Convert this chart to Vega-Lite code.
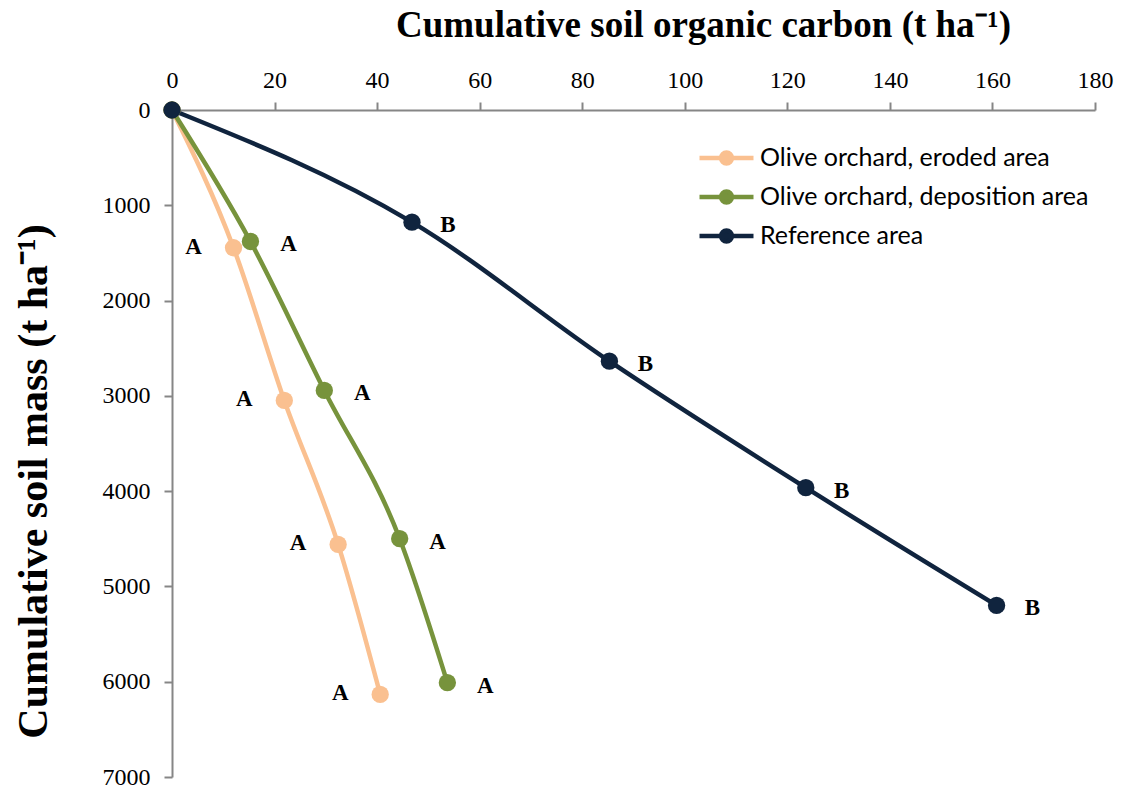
{
  "$schema": "https://vega.github.io/schema/vega-lite/v6.json",
  "width": 923,
  "height": 667,
  "autosize": "none",
  "padding": {"left": 172, "top": 110, "right": 27, "bottom": 18},
  "background": "white",
  "data": {
    "values": [
      {"series": "Olive orchard, eroded area", "carbon": 0, "mass": 0, "sig": ""},
      {"series": "Olive orchard, eroded area", "carbon": 12.0, "mass": 1446, "sig": "A"},
      {"series": "Olive orchard, eroded area", "carbon": 21.9, "mass": 3048, "sig": "A"},
      {"series": "Olive orchard, eroded area", "carbon": 32.4, "mass": 4559, "sig": "A"},
      {"series": "Olive orchard, eroded area", "carbon": 40.6, "mass": 6133, "sig": "A"},
      {"series": "Olive orchard, deposition area", "carbon": 0, "mass": 0, "sig": ""},
      {"series": "Olive orchard, deposition area", "carbon": 15.3, "mass": 1380, "sig": "A"},
      {"series": "Olive orchard, deposition area", "carbon": 29.7, "mass": 2943, "sig": "A"},
      {"series": "Olive orchard, deposition area", "carbon": 44.4, "mass": 4499, "sig": "A"},
      {"series": "Olive orchard, deposition area", "carbon": 53.7, "mass": 6010, "sig": "A"},
      {"series": "Reference area", "carbon": 0, "mass": 0, "sig": ""},
      {"series": "Reference area", "carbon": 46.8, "mass": 1177, "sig": "B"},
      {"series": "Reference area", "carbon": 85.3, "mass": 2636, "sig": "B"},
      {"series": "Reference area", "carbon": 123.6, "mass": 3964, "sig": "B"},
      {"series": "Reference area", "carbon": 160.8, "mass": 5199, "sig": "B"}
    ]
  },
  "encoding": {
    "x": {
      "field": "carbon",
      "type": "quantitative",
      "scale": {"domain": [0, 180], "nice": false, "zero": false},
      "axis": {
        "orient": "top",
        "values": [0, 20, 40, 60, 80, 100, 120, 140, 160, 180],
        "format": "d",
        "labelFont": "Liberation Serif",
        "labelFontSize": 24,
        "labelPadding": 10,
        "title": "Cumulative soil organic carbon (t ha⁻¹)",
        "titleFontSize": 37,
        "titleX": 531,
        "titleY": -85
      }
    },
    "y": {
      "field": "mass",
      "type": "quantitative",
      "scale": {"domain": [0, 7000], "nice": false, "reverse": true},
      "axis": {
        "orient": "left",
        "values": [0, 1000, 2000, 3000, 4000, 5000, 6000, 7000],
        "format": "d",
        "labelFont": "Liberation Serif",
        "labelFontSize": 24,
        "labelPadding": 14,
        "title": "Cumulative soil mass (t ha⁻¹)",
        "titleFontSize": 42,
        "titleAngle": -90,
        "titleX": -139,
        "titleY": 371
      }
    },
    "color": {
      "field": "series",
      "type": "nominal",
      "scale": {
        "domain": ["Olive orchard, eroded area", "Olive orchard, deposition area", "Reference area"],
        "range": ["#FAC090", "#77933C", "#10243E"]
      },
      "legend": {
        "title": null,
        "orient": "none",
        "legendX": 525,
        "legendY": 38,
        "padding": 0,
        "symbolType": "M-1,0L1,0M-0.2,0A0.2,0.2,0,1,1,0.2,0A0.2,0.2,0,1,1,-0.2,0Z",
        "symbolSize": 2916,
        "symbolStrokeWidth": 4.5,
        "symbolOffset": 0,
        "labelOffset": 4,
        "labelFont": "Lato",
        "labelFontSize": 25,
        "labelColor": "#000000",
        "clipHeight": 20,
        "rowPadding": 14,
        "labelLimit": 500,
        "encode": {
          "symbols": {
            "update": {
              "fill": {"scale": "color", "field": "value"},
              "stroke": {"scale": "color", "field": "value"},
              "opacity": {"value": 1},
              "fillOpacity": {"value": 1},
              "strokeOpacity": {"value": 1}
            }
          }
        }
      }
    }
  },
  "layer": [
    {
      "mark": {"type": "line", "strokeWidth": 4.5, "interpolate": "monotone"},
      "encoding": {"order": {"field": "mass", "type": "quantitative"}}
    },
    {
      "mark": {"type": "point", "filled": true, "size": 300, "opacity": 1}
    },
    {
      "transform": [{"filter": "datum.series === 'Olive orchard, eroded area' && datum.sig !== ''"}],
      "mark": {"type": "text", "dx": -40, "dy": -1, "font": "Liberation Serif", "fontWeight": "bold", "fontSize": 23, "baseline": "middle", "align": "center"},
      "encoding": {"text": {"field": "sig"}, "color": {"value": "#000000"}}
    },
    {
      "transform": [{"filter": "datum.series === 'Olive orchard, deposition area' && datum.sig !== ''"}],
      "mark": {"type": "text", "dx": 38, "dy": 3, "font": "Liberation Serif", "fontWeight": "bold", "fontSize": 23, "baseline": "middle", "align": "center"},
      "encoding": {"text": {"field": "sig"}, "color": {"value": "#000000"}}
    },
    {
      "transform": [{"filter": "datum.series === 'Reference area' && datum.sig !== ''"}],
      "mark": {"type": "text", "dx": 36, "dy": 3, "font": "Liberation Serif", "fontWeight": "bold", "fontSize": 23, "baseline": "middle", "align": "center"},
      "encoding": {"text": {"field": "sig"}, "color": {"value": "#000000"}}
    }
  ],
  "config": {
    "view": {"stroke": null},
    "style": {
      "guide-label": {"font": "Liberation Serif", "fontSize": 24, "fill": "#000000"},
      "guide-title": {"font": "Liberation Serif", "fontWeight": "bold", "fill": "#000000"}
    },
    "axis": {
      "grid": false,
      "domainColor": "#868686",
      "domainWidth": 2,
      "tickColor": "#868686",
      "tickWidth": 2,
      "tickSize": 8,
      "labelFont": "Liberation Serif",
      "labelFontSize": 24,
      "labelColor": "#000000",
      "labelOverlap": false,
      "labelBound": false,
      "labelFlush": false,
      "titleFont": "Liberation Serif",
      "titleFontWeight": "bold",
      "titleColor": "#000000",
      "titleAlign": "center",
      "titleBaseline": "middle"
    },
    "legend": {"labelFont": "Lato", "labelFontSize": 25}
  }
}
